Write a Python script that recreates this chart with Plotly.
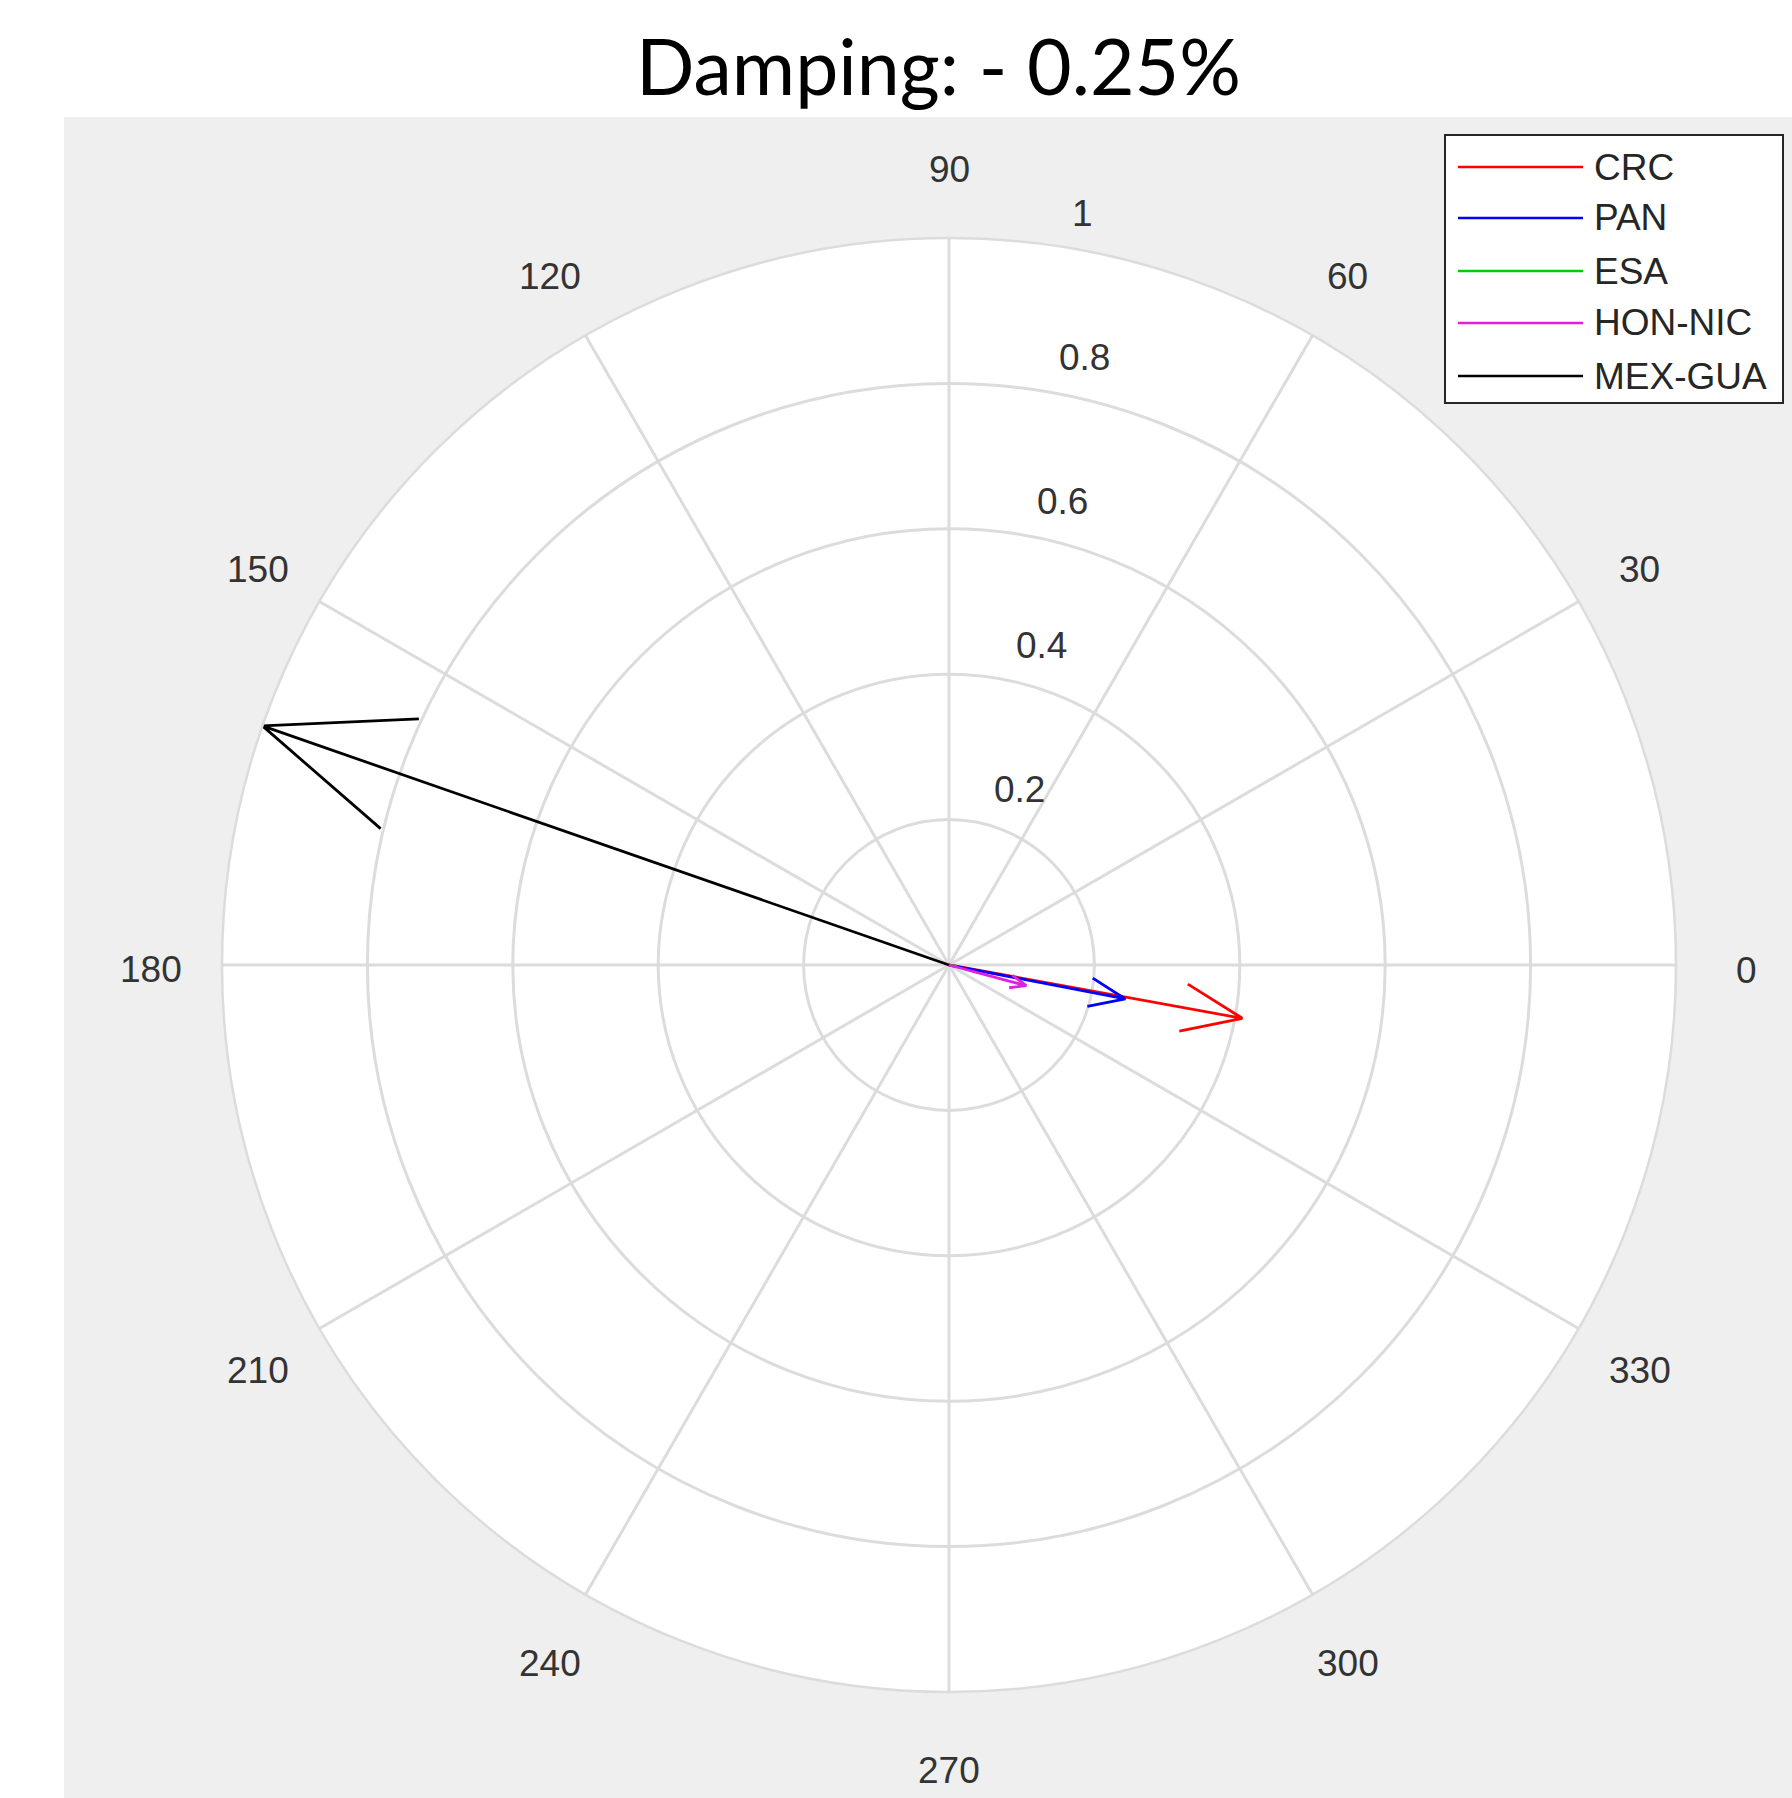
import numpy as np
import plotly.graph_objects as go

# Phasor data (magnitude, angle in degrees) for each area
names = ["CRC", "PAN", "ESA", "HON-NIC", "MEX-GUA"]
magnitudes = [0.41, 0.247, 0.01, 0.11, 1.0]
angles_deg = [349.7, 349.1, 349.0, 345.0, 160.8]
colors = ["#ff0000", "#0000ff", "#00cc00", "#e020e0", "#000000"]

radial_ticks = [0.2, 0.4, 0.6, 0.8, 1.0]
radial_labels = ["0.2", "0.4", "0.6", "0.8", "1"]
angular_ticks = list(range(0, 360, 30))
angular_labels = [str(a) for a in angular_ticks]

W, H = 1792, 1798
TICK_FONT = dict(family="Liberation Sans, Arial, sans-serif", size=37, color="#333333")
GRID = "#dcdcdc"

# centre and radius of the polar disc in pixels
cx, cy, R = 949, 965, 727


def px(x):
    return x / W


def py(y):
    return 1 - y / H


def arrow_path(r, theta_deg):
    """Compass-style arrow: shaft from origin to tip, then two head strokes."""
    z = r * np.exp(1j * np.deg2rad(theta_deg))
    shape = np.array([0, 1, 0.8 + 0.08j, 1, 0.8 - 0.08j])
    pts = z * shape
    return np.abs(pts), np.rad2deg(np.angle(pts)) % 360


fig = go.Figure()
for name, r, th, c in zip(names, magnitudes, angles_deg, colors):
    rr, tt = arrow_path(r, th)
    fig.add_trace(go.Scatterpolar(
        r=rr, theta=tt, mode="lines", name=name,
        line=dict(color=c, width=2.8), cliponaxis=False, showlegend=False,
    ))

fig.update_layout(
    width=W, height=H,
    margin=dict(l=0, r=0, t=0, b=0),
    paper_bgcolor="white",
    plot_bgcolor="white",
    polar=dict(
        domain=dict(x=[px(cx - R), px(cx + R)], y=[py(cy + R), py(cy - R)]),
        bgcolor="white",
        radialaxis=dict(
            range=[0, 1], tickvals=radial_ticks, ticktext=radial_labels,
            angle=81.5, showline=False, ticks="", showticklabels=False,
            gridcolor=GRID, gridwidth=2.5,
        ),
        angularaxis=dict(
            rotation=0, direction="counterclockwise",
            tickvals=angular_ticks, ticktext=angular_labels,
            showline=True, linecolor=GRID, linewidth=2.5,
            gridcolor=GRID, gridwidth=2.5,
            ticks="", showticklabels=False,
        ),
    ),
)

# angle labels, centred on a ring just outside the disc
for a, lab in zip(angular_ticks, angular_labels):
    t = np.deg2rad(a)
    rl = 1.097 * R
    fig.add_annotation(text=lab, xref="paper", yref="paper",
                       x=px(cx + rl * np.cos(t)),
                       y=py(cy - rl * np.sin(t) + 5 - 3 * np.sin(t)),
                       xanchor="center", yanchor="middle", showarrow=False,
                       font=TICK_FONT)

# magnitude labels, left-aligned along the 81.5 deg spoke between the rings
spoke = np.deg2rad(81.5)
for v, lab in zip(radial_ticks, radial_labels):
    fig.add_annotation(text=lab, xref="paper", yref="paper",
                       x=px(cx + v * R * np.cos(spoke) + 22 - 8 * (v == 1.0)),
                       y=py(cy - v * R * np.sin(spoke) - 32),
                       xanchor="left", yanchor="middle", showarrow=False,
                       font=TICK_FONT)

# grey figure panel behind the axes
fig.add_shape(type="rect", xref="paper", yref="paper",
              x0=px(64), x1=1, y0=0, y1=py(117),
              fillcolor="#efefef", line_width=0, layer="below")

# title
fig.add_annotation(text="Damping: - 0.25%", xref="paper", yref="paper",
                   x=px(938), y=py(65), xanchor="center", yanchor="middle",
                   showarrow=False,
                   font=dict(family="Lato, Carlito, sans-serif", size=77, color="black"))

# legend box
lx0, ly0, lx1, ly1 = 1445, 135, 1783, 403
fig.add_shape(type="rect", xref="paper", yref="paper",
              x0=px(lx0), x1=px(lx1), y0=py(ly1), y1=py(ly0),
              fillcolor="white", line=dict(color="#262626", width=2))
row_y = [167, 218, 271, 323, 376]
for name, c, yy in zip(names, colors, row_y):
    fig.add_shape(type="line", xref="paper", yref="paper",
                  x0=px(1458), x1=px(1583), y0=py(yy), y1=py(yy),
                  line=dict(color=c, width=2.5))
    fig.add_annotation(text=name, xref="paper", yref="paper",
                       x=px(1592), y=py(yy), xanchor="left", yanchor="middle",
                       showarrow=False,
                       font=dict(family="Liberation Sans, Arial, sans-serif",
                                 size=37, color="#262626"))

fig.write_html("out.html")
